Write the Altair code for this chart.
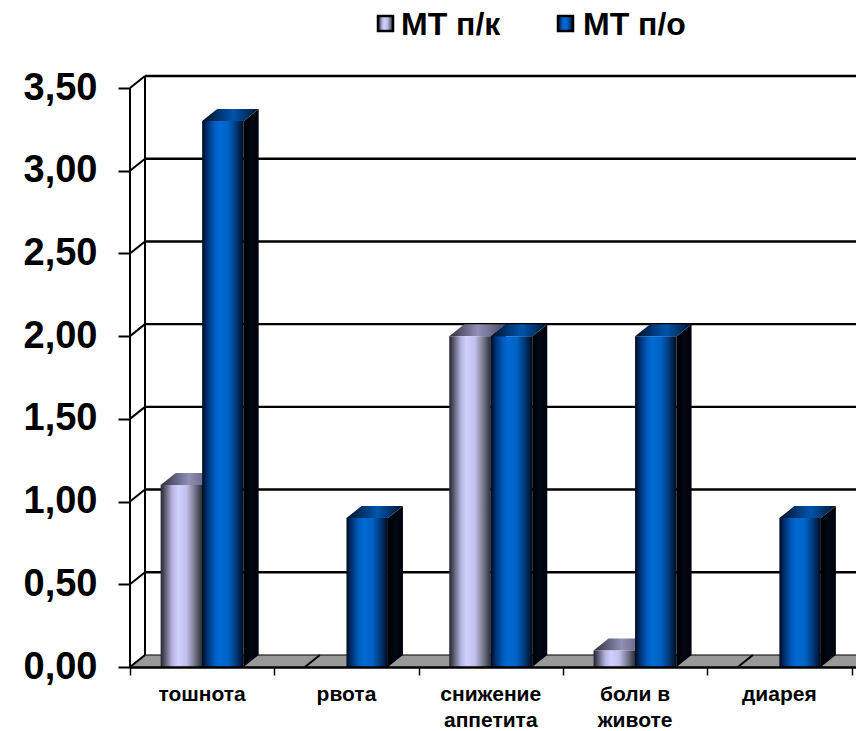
import altair as alt
import pandas as pd

# Chart values
categories = ["тошнота", "рвота", "снижение\nаппетита", "боли в\nживоте", "диарея"]
series_names = ["МТ п/к", "МТ п/о"]
mt_pk = [1.1, 0.0, 2.0, 0.1, 0.0]
mt_po = [3.3, 0.9, 2.0, 2.0, 0.9]
y_ticks = [0.0, 0.5, 1.0, 1.5, 2.0, 2.5, 3.0, 3.5]
x_ticks = [0, 1, 2, 3, 4, 5]

# Geometry of the pseudo-3D box, in axis units
BAR_W = 0.2876
DEPTH_X = 0.104
DEPTH_Y = 0.0726
X_MAX = 5.031
Y_MAX = 3.5 + DEPTH_Y
PLOT_W = 726
PLOT_H = 591

FONT = "Liberation Sans"


def gradient(stops):
    return alt.Gradient(
        gradient="linear",
        x1=0, y1=0, x2=1, y2=0,
        stops=[alt.GradientStop(color=c, offset=o) for o, c in stops],
    )


LIGHT_FRONT = gradient([(0, "#24242e"), (0.1, "#55556a"), (0.28, "#b4b4e0"),
                        (0.42, "#d0d0ff"), (0.62, "#c0c0ec"), (0.82, "#77778e"),
                        (1, "#2c2c36")])
BLUE_FRONT = gradient([(0, "#000a20"), (0.12, "#003070"), (0.3, "#005cc0"),
                       (0.42, "#006ad4"), (0.62, "#0062c6"), (0.82, "#003878"),
                       (1, "#000a1c")])
LIGHT_TOP = gradient([(0, "#30303e"), (0.5, "#9090b8"), (1, "#484860")])
BLUE_TOP = gradient([(0, "#001028"), (0.55, "#0054ac"), (1, "#00142e")])
DARK_SIDE = gradient([(0, "#000000"), (0.5, "#000814"), (1, "#00030a")])

x_scale = alt.Scale(domain=[0, X_MAX], nice=False, zero=False)
y_scale = alt.Scale(domain=[0, Y_MAX], nice=False, zero=False)


def bar_frames(values, x_offset):
    front, side, top, flat = [], [], [], []
    for i, v in enumerate(values):
        x0 = i + 0.5 + x_offset
        x1 = x0 + BAR_W
        key = f"{i}"
        if v == 0:
            flat.append({"k": key, "x": x0, "y": 0})
            flat.append({"k": key, "x": x0 + DEPTH_X, "y": DEPTH_Y})
            continue
        front.append({"x": x0, "x2": x1, "y": v, "y2": 0})
        side.append({"k": key, "x": x1, "y": v, "y2": 0})
        side.append({"k": key, "x": x1 + DEPTH_X, "y": v + DEPTH_Y, "y2": DEPTH_Y})
        top.append({"k": key, "x": x0, "y": v, "y2": v})
        top.append({"k": key, "x": x0 + DEPTH_X, "y": v + DEPTH_Y, "y2": v})
        top.append({"k": key, "x": x1, "y": v + DEPTH_Y, "y2": v})
        top.append({"k": key, "x": x1 + DEPTH_X, "y": v + DEPTH_Y, "y2": v + DEPTH_Y})
    return map(pd.DataFrame, (front, side, top, flat))


X = alt.X("x:Q", scale=x_scale, title=None)
Y = alt.Y("y:Q", scale=y_scale, title=None)


def bar_layers(values, x_offset, front_fill, top_fill):
    front, side, top, flat = bar_frames(values, x_offset)
    layers = [
        alt.Chart(side).mark_area(fill=DARK_SIDE, stroke=None).encode(
            x=X, y=Y, y2="y2:Q", detail="k:N"),
        alt.Chart(top).mark_area(fill=top_fill, stroke=None).encode(
            x=X, y=Y, y2="y2:Q", detail="k:N"),
        alt.Chart(front).mark_rect(fill=front_fill, stroke=None).encode(
            x=X, x2="x2:Q", y=Y, y2="y2:Q"),
    ]
    if len(flat):
        # A zero-height bar only shows as the slanted left edge on the floor
        layers.append(alt.Chart(flat).mark_line(color="#000000", strokeWidth=2).encode(
            x=X, y=Y, detail="k:N"))
    return layers


# Floor of the box
floor_df = pd.DataFrame({
    "x": [0, DEPTH_X, X_MAX],
    "y": [0, DEPTH_Y, DEPTH_Y],
    "y2": [0, 0, 0],
})
floor = alt.Chart(floor_df).mark_area(fill="#999999", stroke=None).encode(
    x=X, y=Y, y2="y2:Q")

# Gridlines on the back wall, with the zero line thinner than the rest
grid_df = pd.DataFrame({
    "x": [DEPTH_X] * len(y_ticks),
    "x2": [X_MAX] * len(y_ticks),
    "y": [v + DEPTH_Y for v in y_ticks],
    "w": [1 if v == 0 else 2.4 for v in y_ticks],
})
grid = alt.Chart(grid_df).mark_rule(color="#000000").encode(
    x=X, x2="x2:Q", y=Y,
    strokeWidth=alt.StrokeWidth("w:Q", scale=None, legend=None))

# Left wall: front and back uprights, joined at each tick by a slanted stroke
uprights_df = pd.DataFrame({
    "x": [0, DEPTH_X],
    "y": [0, DEPTH_Y],
    "y2": [3.5, 3.5 + DEPTH_Y],
})
uprights = alt.Chart(uprights_df).mark_rule(color="#000000", strokeWidth=2).encode(
    x=X, y=Y, y2="y2:Q")

wall_df = pd.DataFrame(
    [{"k": v, "x": 0, "y": v} for v in y_ticks]
    + [{"k": v, "x": DEPTH_X, "y": v + DEPTH_Y} for v in y_ticks]
)
wall = alt.Chart(wall_df).mark_line(color="#000000", strokeWidth=2).encode(
    x=X, y=Y, detail="k:N")

# Axes: bottom edge with category ticks, left edge with the value labels
axes = alt.Chart(pd.DataFrame({"x": [0], "y": [0]})).mark_point(opacity=0).encode(
    x=alt.X("x:Q", scale=x_scale, title=None, axis=alt.Axis(
        values=x_ticks, labels=False, grid=False, domain=True, domainColor="#000000",
        domainWidth=2.4, tickColor="#000000", tickWidth=1.5, tickSize=8, zindex=1)),
    y=alt.Y("y:Q", scale=y_scale, title=None, axis=alt.Axis(
        values=y_ticks, grid=False, domain=False, tickColor="#000000", tickWidth=2,
        tickSize=12, labelPadding=21, labelFont=FONT, labelFontSize=38,
        labelFontWeight="bold", labelColor="#000000",
        labelExpr="replace(format(datum.value, '.2f'), '.', ',')")),
)

# Category names under the axis
label_df = pd.DataFrame({"x": [i + 0.5 for i in range(len(categories))], "t": categories})
labels = alt.Chart(label_df).mark_text(
    font=FONT, fontSize=21, fontWeight="bold", color="#000000",
    align="center", baseline="alphabetic", lineBreak="\n", lineHeight=26,
).encode(x=X, y=alt.value(625), text="t:N")


# Legend row above the plot
def legend_item(name, x_box, x_text, fill):
    box = alt.Chart(pd.DataFrame({"n": [name]})).mark_rect(
        fill=fill, stroke="#000000", strokeWidth=2.5,
    ).encode(x=alt.value(x_box), x2=alt.value(x_box + 15),
             y=alt.value(-60), y2=alt.value(-45))
    text = alt.Chart(pd.DataFrame({"n": [name]})).mark_text(
        font=FONT, fontSize=32, fontWeight="bold", color="#000000",
        align="left", baseline="alphabetic",
    ).encode(x=alt.value(x_text), y=alt.value(-41), text="n:N")
    return [box, text]


legend = (
    legend_item(series_names[0], 248, 271, LIGHT_FRONT)
    + legend_item(series_names[1], 428, 453, BLUE_FRONT)
)

chart = alt.layer(
    floor, grid, uprights, wall, axes,
    *bar_layers(mt_pk, -BAR_W, LIGHT_FRONT, LIGHT_TOP),
    *bar_layers(mt_po, 0, BLUE_FRONT, BLUE_TOP),
    labels, *legend,
).properties(
    width=PLOT_W,
    height=PLOT_H,
    autosize=alt.AutoSizeParams(type="none"),
    padding={"left": 130, "top": 76, "right": 0, "bottom": 64},
    background="#ffffff",
).configure_view(stroke=None)

chart.save("out.html", embed_options={"renderer": "svg", "actions": False})
